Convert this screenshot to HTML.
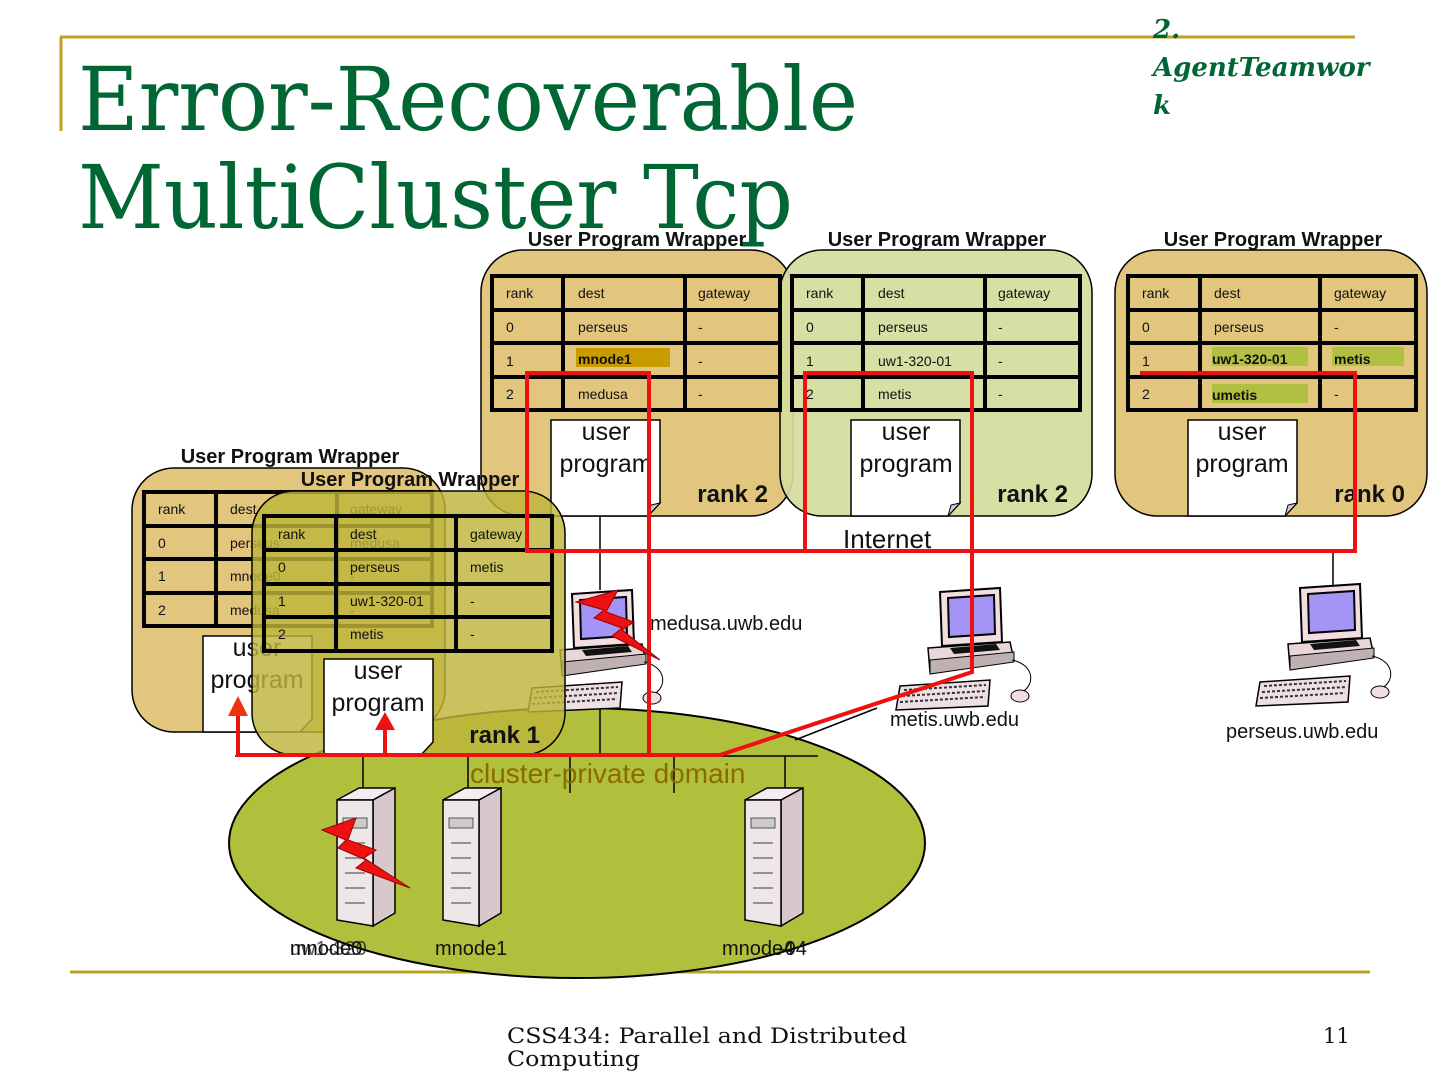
<!DOCTYPE html>
<html><head><meta charset="utf-8"><style>
html,body{margin:0;padding:0;background:#fff;}
svg{display:block;}
.sans{font-family:"Liberation Sans",sans-serif;}
.serif{font-family:"DejaVu Serif","Liberation Serif",serif;}
.t{font-size:14px;fill:#111;font-family:"Liberation Sans",sans-serif;}
.lab{font-size:20px;font-weight:bold;fill:#111;font-family:"Liberation Sans",sans-serif;}
.rk{font-size:24px;font-weight:bold;fill:#111;font-family:"Liberation Sans",sans-serif;}
.up{font-size:25px;fill:#111;text-anchor:middle;font-family:"Liberation Sans",sans-serif;}
</style></head><body>
<svg width="1440" height="1080" viewBox="0 0 1440 1080" xmlns="http://www.w3.org/2000/svg">
<defs>
<g id="comp">
  <polygon points="-12,58 70,52 74,70 -10,82" fill="#e8d6d8" stroke="#000" stroke-width="1.5"/>
  <polygon points="-10,70 74,62 74,72 -10,84" fill="#bfb0b2" stroke="#000" stroke-width="1"/>
  <polygon points="0,2 60,-2 62,52 2,56" fill="#f2dde0" stroke="#000" stroke-width="2"/>
  <polygon points="8,8 54,5 55,44 9,47" fill="#a394f5" stroke="#000" stroke-width="2"/>
  <polygon points="10,58 56,54 60,60 14,64" fill="#111"/>
  <polygon points="-40,96 50,90 48,116 -44,120" fill="#eee0e2" stroke="#000" stroke-width="1.5"/>
  <path d="M-36,100 L46,95 M-38,106 L46,101 M-40,112 L45,107" stroke="#333" stroke-width="2" stroke-dasharray="3,2"/>
  <path d="M72,70 C95,75 95,95 82,102" fill="none" stroke="#000" stroke-width="1"/>
  <ellipse cx="80" cy="106" rx="9" ry="6" fill="#f2dde0" stroke="#000"/>
</g>
<g id="srv">
  <polygon points="0,12 22,0 58,0 36,12" fill="#f4ecee" stroke="#000" stroke-width="1.5"/>
  <polygon points="36,12 58,0 58,125 36,138" fill="#d8c8cc" stroke="#000" stroke-width="1.5"/>
  <polygon points="0,12 36,12 36,138 0,132" fill="#efe6e8" stroke="#000" stroke-width="1.5"/>
  <rect x="6" y="30" width="24" height="10" fill="#ccc" stroke="#555"/>
  <path d="M8,55 H28 M8,70 H28 M8,85 H28 M8,100 H28 M8,115 H28" stroke="#777" stroke-width="1.5"/>
</g>
</defs>

<!-- title decorations -->
<line x1="60" y1="37" x2="1355" y2="37" stroke="#c0a020" stroke-width="3"/>
<line x1="61" y1="37" x2="61" y2="131" stroke="#c0a020" stroke-width="3"/>
<text class="serif" x="78" y="130" font-size="88" fill="#006633" textLength="780" lengthAdjust="spacingAndGlyphs">Error-Recoverable</text>
<text class="serif" x="78" y="228" font-size="88" fill="#006633" textLength="715" lengthAdjust="spacingAndGlyphs">MultiCluster Tcp</text>
<text class="serif" x="1153" y="38" font-size="26" font-weight="bold" font-style="italic" fill="#006633">2.</text>
<text class="serif" x="1153" y="76" font-size="26" font-weight="bold" font-style="italic" fill="#006633">AgentTeamwor</text>
<text class="serif" x="1153" y="114" font-size="26" font-weight="bold" font-style="italic" fill="#006633">k</text>

<!-- bottom line -->
<line x1="70" y1="972" x2="1370" y2="972" stroke="#c0a020" stroke-width="3"/>

<!-- ellipse -->
<ellipse cx="577" cy="843" rx="348" ry="135" fill="#b0c03c" stroke="#000" stroke-width="2"/>

<!-- Box A -->
<text class="lab" x="637" y="246" text-anchor="middle">User Program Wrapper</text>
<rect x="481" y="250" width="312" height="266" rx="42" fill="#e3c67e" stroke="#000" stroke-width="1.5"/>
<!-- Box B -->
<text class="lab" x="937" y="246" text-anchor="middle">User Program Wrapper</text>
<rect x="780" y="250" width="312" height="266" rx="42" fill="#d5dc9c" stroke="#000" stroke-width="1.5" fill-opacity="0.92"/>
<!-- Box C -->
<text class="lab" x="1273" y="246" text-anchor="middle">User Program Wrapper</text>
<rect x="1115" y="250" width="312" height="266" rx="42" fill="#e3c67e" stroke="#000" stroke-width="1.5"/>

<!-- Table A -->
<rect x="576" y="348" width="94" height="19" fill="#c89b00"/>
<g fill="none" stroke="#000" stroke-width="4">
<rect x="492" y="276" width="288" height="134"/>
<path d="M563,276V410 M685,276V410 M492,310H780 M492,343H780 M492,377H780"/>
</g>
<g>
<text class="t" x="506" y="298">rank</text><text class="t" x="578" y="298">dest</text><text class="t" x="698" y="298">gateway</text>
<text class="t" x="506" y="332">0</text><text class="t" x="578" y="332">perseus</text><text class="t" x="698" y="332">-</text>
<text class="t" x="506" y="366">1</text><text class="t" x="578" y="364" font-weight="bold">mnode1</text><text class="t" x="698" y="366">-</text>
<text class="t" x="506" y="399">2</text><text class="t" x="578" y="399">medusa</text><text class="t" x="698" y="399">-</text>
</g>
<!-- Table B -->
<g fill="none" stroke="#000" stroke-width="4">
<rect x="792" y="276" width="288" height="134"/>
<path d="M863,276V410 M985,276V410 M792,310H1080 M792,343H1080 M792,377H1080"/>
</g>
<g>
<text class="t" x="806" y="298">rank</text><text class="t" x="878" y="298">dest</text><text class="t" x="998" y="298">gateway</text>
<text class="t" x="806" y="332">0</text><text class="t" x="878" y="332">perseus</text><text class="t" x="998" y="332">-</text>
<text class="t" x="806" y="366">1</text><text class="t" x="878" y="366">uw1-320-01</text><text class="t" x="998" y="366">-</text>
<text class="t" x="806" y="399">2</text><text class="t" x="878" y="399">metis</text><text class="t" x="998" y="399">-</text>
</g>
<!-- Table C -->
<rect x="1212" y="347" width="96" height="19" fill="#b0c040"/>
<rect x="1332" y="347" width="72" height="19" fill="#b0c040"/>
<rect x="1212" y="384" width="96" height="19" fill="#b0c040"/>
<g fill="none" stroke="#000" stroke-width="4">
<rect x="1128" y="276" width="288" height="134"/>
<path d="M1200,276V410 M1320,276V410 M1128,310H1416 M1128,343H1416 M1128,377H1416"/>
</g>
<g>
<text class="t" x="1142" y="298">rank</text><text class="t" x="1214" y="298">dest</text><text class="t" x="1334" y="298">gateway</text>
<text class="t" x="1142" y="332">0</text><text class="t" x="1214" y="332">perseus</text><text class="t" x="1334" y="332">-</text>
<text class="t" x="1142" y="366">1</text><text class="t" x="1212" y="364" font-weight="bold">uw1-320-01</text><text class="t" x="1334" y="364" font-weight="bold">metis</text>
<text class="t" x="1142" y="399">2</text><text class="t" x="1212" y="400" font-weight="bold">umetis</text><text class="t" x="1334" y="399">-</text>
</g>

<!-- docs A B C -->
<g fill="#fff" stroke="#000" stroke-width="1.5">
<path d="M551,420 H660 V503 L648,516 H551 Z"/>
<path d="M851,420 H960 V503 L948,516 H851 Z"/>
<path d="M1188,420 H1297 V503 L1285,516 H1188 Z"/>
</g>
<g fill="#ccc" stroke="#000"><path d="M648,516 L651,505 L660,503 Z"/><path d="M948,516 L951,505 L960,503 Z"/><path d="M1285,516 L1288,505 L1297,503 Z"/></g>
<text class="up" x="606" y="440">user</text><text class="up" x="606" y="472">program</text>
<text class="up" x="906" y="440">user</text><text class="up" x="906" y="472">program</text>
<text class="up" x="1242" y="440">user</text><text class="up" x="1242" y="472">program</text>
<text class="rk" x="768" y="502" text-anchor="end">rank 2</text>
<text class="rk" x="1068" y="502" text-anchor="end">rank 2</text>
<text class="rk" x="1405" y="502" text-anchor="end">rank 0</text>

<!-- network black lines -->
<g stroke="#000" stroke-width="1.5">
<line x1="527" y1="552" x2="1355" y2="552"/>
<line x1="600" y1="516" x2="600" y2="590"/>
<line x1="600" y1="706" x2="600" y2="756"/>
<line x1="1333" y1="552" x2="1333" y2="588"/>
<line x1="877" y1="708" x2="795" y2="740"/>
<line x1="235" y1="756" x2="818" y2="756"/>
<line x1="363" y1="756" x2="363" y2="790"/>
<line x1="468" y1="756" x2="468" y2="790"/>
<line x1="570" y1="756" x2="570" y2="793"/>
<line x1="674" y1="756" x2="674" y2="793"/>
<line x1="785" y1="756" x2="785" y2="790"/>
</g>
<text class="sans" x="843" y="548" font-size="26" fill="#111">Internet</text>

<!-- computers -->
<use href="#comp" x="572" y="592"/>
<use href="#comp" x="940" y="590"/>
<use href="#comp" x="1300" y="586"/>
<text class="sans" x="650" y="630" font-size="20" fill="#111">medusa.uwb.edu</text>
<text class="sans" x="890" y="726" font-size="20" fill="#111">metis.uwb.edu</text>
<text class="sans" x="1226" y="738" font-size="20" fill="#111">perseus.uwb.edu</text>

<!-- servers -->
<use href="#srv" x="337" y="788"/>
<use href="#srv" x="443" y="788"/>
<use href="#srv" x="745" y="788"/>
<text class="sans" x="290" y="955" font-size="20" fill="#111">mnode0</text>
<text class="sans" x="290" y="955" font-size="20" fill="#111" fill-opacity="0.7">uw1-320</text>
<text class="sans" x="435" y="955" font-size="20" fill="#111">mnode1</text>
<text class="sans" x="722" y="955" font-size="20" fill="#111">mnode4</text>
<text class="sans" x="778" y="955" font-size="20" fill="#111">-04</text>
<text class="sans" x="470" y="783" font-size="28" fill="#8b6a00">cluster-private domain</text>

<!-- Box D -->
<text class="lab" x="290" y="463" text-anchor="middle">User Program Wrapper</text>
<rect x="132" y="468" width="313" height="264" rx="42" fill="#e3c67e" stroke="#000" stroke-width="1.5"/>
<g fill="none" stroke="#000" stroke-width="4">
<rect x="144" y="492" width="288" height="134"/>
<path d="M216,492V626 M337,492V626 M144,526H432 M144,559H432 M144,593H432"/>
</g>
<g>
<text class="t" x="158" y="514">rank</text><text class="t" x="230" y="514">dest</text><text class="t" x="350" y="514">gateway</text>
<text class="t" x="158" y="548">0</text><text class="t" x="230" y="548">perseus</text><text class="t" x="350" y="548">medusa</text>
<text class="t" x="158" y="581">1</text><text class="t" x="230" y="581">mnode0</text><text class="t" x="350" y="581">-</text>
<text class="t" x="158" y="615">2</text><text class="t" x="230" y="615">medusa</text><text class="t" x="350" y="615">-</text>
</g>
<path d="M203,636 H312 V719 L300,732 H203 Z" fill="#fff" stroke="#000" stroke-width="1.5"/>
<text class="up" x="257" y="656">user</text><text class="up" x="257" y="688">program</text>

<!-- Box E (translucent olive) -->
<rect x="252" y="491" width="313" height="264" rx="42" fill="#bdb43a" fill-opacity="0.82" stroke="#000" stroke-width="1.5"/>
<text class="lab" x="410" y="486" text-anchor="middle">User Program Wrapper</text>
<g fill="none" stroke="#000" stroke-width="4">
<rect x="264" y="516" width="288" height="135"/>
<path d="M336,516V651 M456,516V651 M264,550H552 M264,584H552 M264,617H552"/>
</g>
<g>
<text class="t" x="278" y="539">rank</text><text class="t" x="350" y="539">dest</text><text class="t" x="470" y="539">gateway</text>
<text class="t" x="278" y="572">0</text><text class="t" x="350" y="572">perseus</text><text class="t" x="470" y="572">metis</text>
<text class="t" x="278" y="606">1</text><text class="t" x="350" y="606">uw1-320-01</text><text class="t" x="470" y="606">-</text>
<text class="t" x="278" y="639">2</text><text class="t" x="350" y="639">metis</text><text class="t" x="470" y="639">-</text>
</g>
<path d="M324,659 H433 V742 L421,755 H324 Z" fill="#fff" stroke="#000" stroke-width="1.5"/>
<text class="up" x="378" y="679">user</text><text class="up" x="378" y="711">program</text>
<text class="rk" x="540" y="743" text-anchor="end">rank 1</text>

<!-- red paths -->
<g fill="none" stroke="#ee1111" stroke-width="4">
<path d="M649,755 V373 H527 V551 H1355 V373 H1140"/>
<path d="M805,551 V373 H972 V672 L720,755 H238 V712"/>
<path d="M385,755 V728"/>
</g>
<polygon points="238,696 228,716 248,716" fill="#ee3311"/>
<polygon points="385,712 375,730 395,730" fill="#ee1111"/>

<!-- lightning -->
<polygon points="576,602 618,590 606,612 634,622 622,630 660,660 612,636 622,628 594,618 604,610" fill="#ee1111" stroke="#990000" stroke-width="1"/>
<polygon points="322,830 356,818 348,840 376,850 364,858 410,888 356,868 366,860 338,848 346,840" fill="#ee1111" stroke="#990000" stroke-width="1"/>

<!-- footer -->
<text class="serif" x="507" y="1043" font-size="21" fill="#111" textLength="400" lengthAdjust="spacingAndGlyphs">CSS434: Parallel and Distributed</text>
<text class="serif" x="507" y="1066" font-size="21" fill="#111" textLength="133" lengthAdjust="spacingAndGlyphs">Computing</text>
<text class="serif" x="1323" y="1043" font-size="21" fill="#111">11</text>
</svg>
</body></html>
